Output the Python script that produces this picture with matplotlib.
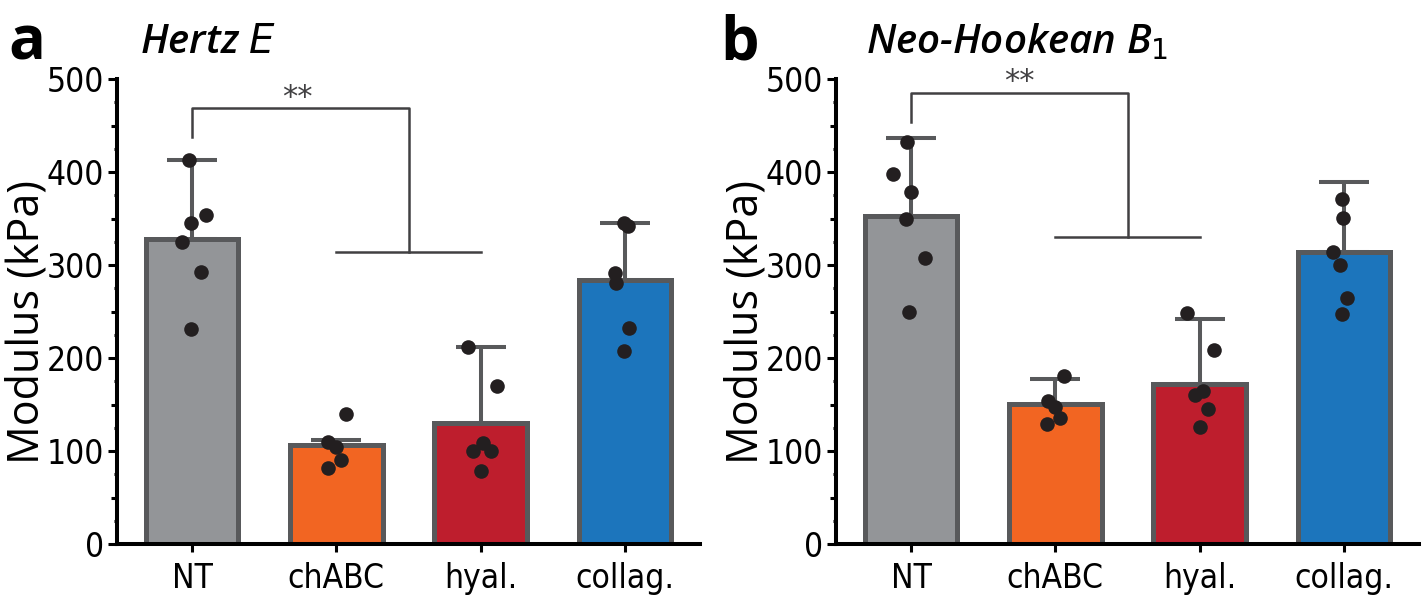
import matplotlib
matplotlib.use("Agg")
import matplotlib.pyplot as plt
from matplotlib import font_manager
import numpy as np

categories = ["NT", "chABC", "hyal.", "collag."]
bar_colors = ["#939598", "#F26522", "#BE1E2D", "#1C75BC"]

# Panel a: Hertz E
a_means = [328, 106, 130, 284]
a_err_top = [413, 112, 212, 345]
a_points = [
    [413, 354, 345, 325, 293, 231],
    [140, 110, 104, 90, 82],
    [212, 170, 109, 100, 100, 78],
    [345, 342, 291, 281, 232, 208],
]
a_jitter = [
    [-0.02, 0.10, -0.01, -0.07, 0.06, -0.01],
    [0.07, -0.06, 0.0, 0.035, -0.06],
    [-0.09, 0.11, 0.015, -0.055, 0.075, 0.005],
    [-0.01, 0.02, -0.07, -0.06, 0.03, -0.005],
]

# Panel b: Neo-Hookean B1
b_means = [353, 151, 172, 314]
b_err_top = [437, 177, 242, 389]
b_points = [
    [432, 398, 378, 349, 308, 249],
    [181, 154, 147, 136, 129],
    [248, 209, 164, 160, 145, 126],
    [371, 351, 314, 300, 265, 247],
]
b_jitter = [
    [-0.03, -0.125, 0.0, -0.035, 0.095, -0.015],
    [0.06, -0.05, 0.0, 0.035, -0.06],
    [-0.09, 0.10, 0.02, -0.035, 0.055, 0.005],
    [-0.015, -0.005, -0.075, -0.03, 0.02, -0.015],
]

sig_a = dict(y_top=469, y_left=438, y_low=314, x_mid=1.5, star_x=0.73, star_y=480)
sig_b = dict(y_top=485, y_left=454, y_low=330, x_mid=1.5, star_x=0.75, star_y=497)

EDGE = "#58595B"
DOT = "#231F20"
BRK = "#414042"

# condensed font for tick labels
names = {f.name for f in font_manager.fontManager.ttflist}
if "Liberation Sans Narrow" in names:
    TICKFONT = dict(family="Liberation Sans Narrow")
else:
    TICKFONT = dict(family="DejaVu Sans", stretch="condensed")

W, H = 1428, 610
fig = plt.figure(figsize=(W / 100, H / 100), dpi=100)


def px(x, y, w, h):
    return [x / W, 1 - (y + h) / H, w / W, h / H]


def draw_panel(ax, means, err_top, points, jitter, sig):
    x = np.arange(len(categories))
    up = [t - m for t, m in zip(err_top, means)]
    ax.bar(x, means, width=0.64, color=bar_colors, edgecolor=EDGE,
           linewidth=3.6, zorder=2)
    ax.errorbar(x, means, yerr=[np.zeros(len(x)), up], fmt="none",
                ecolor=EDGE, elinewidth=2.9, capsize=18, capthick=2.9, zorder=3)
    for i, (pts, jit) in enumerate(zip(points, jitter)):
        ax.plot(np.array(jit) + i, pts, "o", color=DOT, markersize=10.5,
                markeredgewidth=0, zorder=4, clip_on=False)
    ax.set_xlim(-0.52, 3.52)
    ax.set_ylim(0, 500)
    for s in ["top", "right"]:
        ax.spines[s].set_visible(False)
    for s in ["left", "bottom"]:
        ax.spines[s].set_linewidth(2.9)
        ax.spines[s].set_color("black")
    ax.set_xticks(x)
    ax.set_xticklabels(categories, fontsize=24, **TICKFONT)
    ax.set_yticks([0, 100, 200, 300, 400, 500])
    ax.set_yticklabels(["0", "100", "200", "300", "400", "500"], fontsize=24, **TICKFONT)
    ax.set_yticks(np.arange(50, 500, 100), minor=True)
    ax.tick_params(axis="y", which="major", length=6.5, width=2.2, pad=3)
    ax.tick_params(axis="y", which="minor", length=4.5, width=2.2)
    ax.tick_params(axis="x", which="major", length=6, width=2.2, pad=7)
    sec = ax.secondary_yaxis("left")
    sec.set_yticks(np.arange(25, 500, 50))
    sec.set_yticklabels([])
    sec.tick_params(length=2.5, width=2.2)
    sec.spines["left"].set_visible(False)
    ax.set_ylabel("Modulus (kPa)", family="Open Sans", fontsize=31)
    ax.yaxis.set_label_coords(-0.115, 0.477)
    # significance bracket
    kw = dict(color=BRK, linewidth=1.8, clip_on=False, zorder=5)
    ax.plot([0, 0, sig["x_mid"], sig["x_mid"]],
            [sig["y_left"], sig["y_top"], sig["y_top"], sig["y_low"]], **kw)
    ax.plot([1, 2], [sig["y_low"], sig["y_low"]], **kw)
    ax.text(sig["star_x"], sig["star_y"], "**", ha="center", va="center",
            fontsize=22, color=BRK, family="DejaVu Sans")


ax1 = fig.add_axes(px(117, 79, 583, 465))
draw_panel(ax1, a_means, a_err_top, a_points, a_jitter, sig_a)
ax2 = fig.add_axes(px(836, 79, 583, 465))
draw_panel(ax2, b_means, b_err_top, b_points, b_jitter, sig_b)

fig.text(8 / W, 1 - 60 / H, "a", fontsize=44, fontweight="bold", family="Open Sans",
         va="baseline", ha="left")
fig.text(720 / W, 1 - 60 / H, "b", fontsize=44, fontweight="bold", family="Open Sans",
         va="baseline", ha="left")
fig.text(140 / W, 1 - 53 / H, "Hertz $\\mathit{E}$", fontsize=29, style="italic",
         fontweight="semibold", family="Open Sans", va="baseline", ha="left")
fig.text(866 / W, 1 - 53 / H, "Neo-Hookean B$_{\\mathit{1}}$", fontsize=29, style="italic",
         fontweight="semibold", family="Open Sans", va="baseline", ha="left")

fig.savefig("out.png", dpi=100)
